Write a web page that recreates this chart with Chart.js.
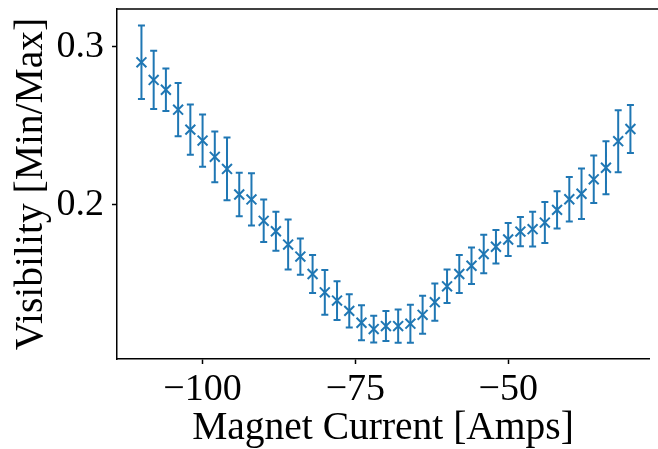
<!DOCTYPE html>
<html lang="en">
<head>
<meta charset="UTF-8">
<title>Visibility vs Magnet Current</title>
<script src="https://cdn.jsdelivr.net/npm/chart.js"></script>
<style>
  html, body { margin: 0; padding: 0; background: #fff; overflow: hidden; }
</style>
</head>
<body>
<canvas id="myChart" width="658" height="449"></canvas>
<script>
// magnet current (A)
const current = [-110, -108, -106, -104, -102, -100, -98, -96, -94, -92,
                 -90, -88, -86, -84, -82, -80, -78, -76, -74, -72,
                 -70, -68, -66, -64, -62, -60, -58, -56, -54, -52,
                 -50, -48, -46, -44, -42, -40, -38, -36, -34, -32, -30];
const visibility = [0.2901, 0.2790, 0.2728, 0.2602, 0.2476, 0.2407, 0.2304, 0.2228, 0.2066, 0.2035,
                    0.1900, 0.1834, 0.1750, 0.1674, 0.1564, 0.1448, 0.1396, 0.1331, 0.1256, 0.1216,
                    0.1235, 0.1235, 0.1250, 0.1306, 0.1386, 0.1486, 0.1564, 0.1616, 0.1690, 0.1736,
                    0.1782, 0.1832, 0.1847, 0.1889, 0.1969, 0.2036, 0.2071, 0.2162, 0.2235, 0.2403, 0.2480];
const visErr = [0.0232, 0.0184, 0.0134, 0.0168, 0.0158, 0.0165, 0.0160, 0.0198, 0.0138, 0.0165,
                0.0134, 0.0123, 0.0158, 0.0115, 0.0120, 0.0142, 0.0122, 0.0105, 0.0110, 0.0085,
                0.0095, 0.0105, 0.0120, 0.0120, 0.0118, 0.0106, 0.0120, 0.0115, 0.0122, 0.0106,
                0.0104, 0.0092, 0.0110, 0.0130, 0.0118, 0.0140, 0.0160, 0.0150, 0.0168, 0.0196, 0.0152];
const xTicks = [-100, -75, -50];
const yTicks = [0.2, 0.3];

const blue = '#1f77b4';
const serif = '"Liberation Serif", "Times New Roman", serif';

// vertical error bars with caps, drawn through the chart scales
const errorBars = {
  id: 'errorBars',
  beforeDatasetsDraw(chart) {
    const ctx = chart.ctx;
    const xs = chart.scales.x, ys = chart.scales.y;
    const a = chart.chartArea;
    ctx.save();
    ctx.beginPath();
    ctx.rect(a.left, a.top, a.right - a.left, a.bottom - a.top);
    ctx.clip();
    ctx.strokeStyle = blue;
    ctx.lineWidth = 2;
    ctx.beginPath();
    current.forEach((c, i) => {
      const px = xs.getPixelForValue(c);
      const top = ys.getPixelForValue(visibility[i] + visErr[i]);
      const bot = ys.getPixelForValue(visibility[i] - visErr[i]);
      ctx.moveTo(px, top); ctx.lineTo(px, bot);
      ctx.moveTo(px - 3.5, top); ctx.lineTo(px + 3.5, top);
      ctx.moveTo(px - 3.5, bot); ctx.lineTo(px + 3.5, bot);
    });
    ctx.stroke();
    ctx.restore();
  }
};

// top spine (the right one falls outside the cropped figure)
const frame = {
  id: 'frame',
  afterDraw(chart) {
    const ctx = chart.ctx, a = chart.chartArea;
    ctx.save();
    ctx.strokeStyle = '#000';
    ctx.lineWidth = 1.5;
    ctx.beginPath();
    ctx.moveTo(a.left, a.top);
    ctx.lineTo(chart.width, a.top);
    ctx.stroke();
    ctx.restore();
  }
};

const ctx = document.getElementById('myChart').getContext('2d');
new Chart(ctx, {
  type: 'scatter',
  data: {
    datasets: [{
      data: current.map((c, i) => ({ x: c, y: visibility[i] })),
      pointStyle: 'crossRot',
      radius: 7,
      borderColor: blue,
      backgroundColor: blue,
      borderWidth: 2,
      showLine: false
    }]
  },
  options: {
    responsive: false,
    animation: false,
    layout: { padding: { top: 7, right: 0, left: 0, bottom: 0 } },
    plugins: { legend: { display: false }, tooltip: { enabled: false } },
    scales: {
      x: {
        type: 'linear',
        min: -114,
        max: -26.96,
        afterBuildTicks: s => { s.ticks = xTicks.map(v => ({ value: v })); },
        afterFit: s => { s.height = 90; s.paddingLeft = 0; s.paddingRight = 0; },
        grid: { drawOnChartArea: false, drawTicks: true, tickLength: 5, tickColor: '#000', tickWidth: 1.5 },
        border: { color: '#000', width: 1.5 },
        ticks: {
          color: '#000',
          font: { family: serif, size: 38 },
          padding: 3,
          maxRotation: 0,
          autoSkip: false,
          callback: v => v < 0 ? '\u2212' + Math.abs(v) : String(v)
        },
        title: {
          display: true,
          text: 'Magnet Current [Amps]',
          color: '#000',
          font: { family: serif, size: 39.5, lineHeight: 1 },
          padding: { top: 0, bottom: 1 }
        }
      },
      y: {
        min: 0.1027,
        max: 0.3238,
        afterBuildTicks: s => { s.ticks = yTicks.map(v => ({ value: v })); },
        afterFit: s => { s.width = 117; s.paddingTop = 0; s.paddingBottom = 0; },
        grid: { drawOnChartArea: false, drawTicks: true, tickLength: 5, tickColor: '#000', tickWidth: 1.5 },
        border: { color: '#000', width: 1.5 },
        ticks: {
          color: '#000',
          font: { family: serif, size: 38 },
          padding: 8,
          callback: v => v.toFixed(1)
        },
        title: {
          display: true,
          text: 'Visibility [Min/Max]',
          color: '#000',
          font: { family: serif, size: 39.5, lineHeight: 1 },
          padding: { top: 12, bottom: 0 }
        }
      }
    }
  },
  plugins: [errorBars, frame]
});
</script>
</body>
</html>
